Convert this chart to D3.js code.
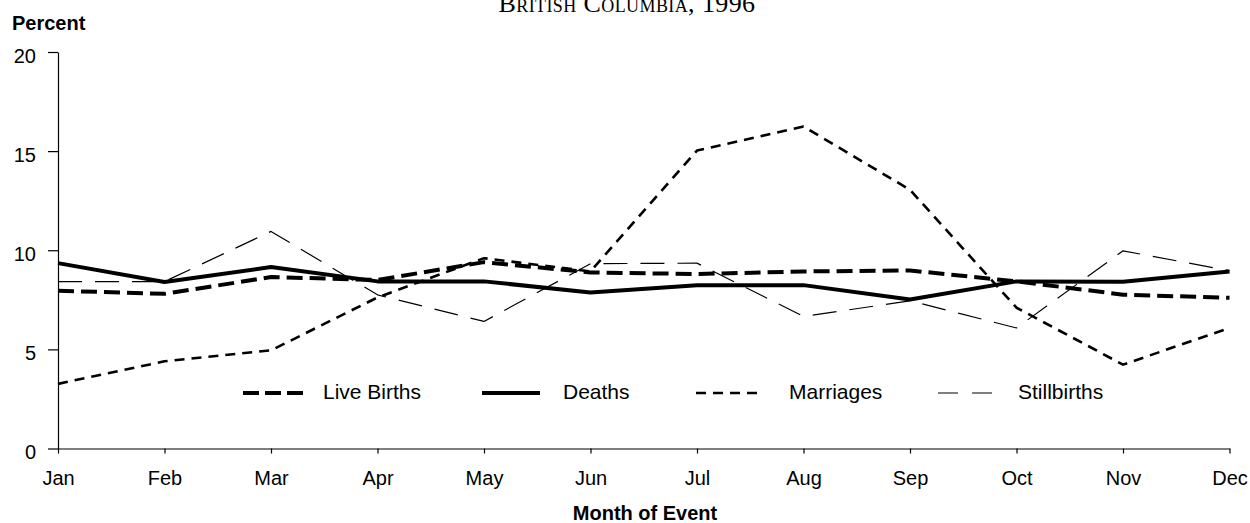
<!DOCTYPE html>
<html>
<head>
<meta charset="utf-8">
<script src="https://cdn.jsdelivr.net/npm/d3@7"></script>
<style>
  html, body { margin: 0; padding: 0; background: #fff; }
  svg { display: block; }
</style>
</head>
<body>
<svg id="chart" width="1250" height="523"></svg>
<script>
const months = ["Jan","Feb","Mar","Apr","May","Jun","Jul","Aug","Sep","Oct","Nov","Dec"];
const yTicks = [0, 5, 10, 15, 20];
const liveBirths  = [7.96, 7.8, 8.65, 8.5, 9.4, 8.88, 8.8, 8.93, 8.98, 8.43, 7.76, 7.6];
const deaths      = [9.35, 8.4, 9.15, 8.43, 8.43, 7.87, 8.24, 8.24, 7.52, 8.43, 8.41, 8.93];
const marriages   = [3.26, 4.4, 4.95, 7.62, 9.6, 8.93, 15.03, 16.24, 13.05, 7.1, 4.23, 6.08];
const stillbirths = [8.42, 8.42, 10.95, 7.75, 6.41, 9.32, 9.35, 6.66, 7.45, 6.08, 9.97, 8.97];
const seriesNames = ["Live Births", "Deaths", "Marriages", "Stillbirths"];
const titleText = "British Columbia, 1996";

const series = [
  {name: seriesNames[0], values: liveBirths,  width: 4,   dash: "16,7"},
  {name: seriesNames[1], values: deaths,      width: 4,   dash: null},
  {name: seriesNames[2], values: marriages,   width: 2.6, dash: "10,7"},
  {name: seriesNames[3], values: stillbirths, width: 1.2, dash: "24,13"}
];

const svg = d3.select("#chart");
const font = "'Liberation Sans', Arial, sans-serif";

const x = d3.scalePoint().domain(months).range([58, 1229.5]);
const y = d3.scaleLinear().domain([0, 20]).range([448.5, 52]);

// Title, partly cut by the top edge as in the reference
svg.append("text")
  .attr("x", 627).attr("y", 11.5)
  .attr("text-anchor", "middle")
  .style("font-family", "'Liberation Serif', 'Times New Roman', serif")
  .style("font-variant", "small-caps")
  .style("font-size", "26px")
  .style("letter-spacing", "0.4px")
  .text(titleText);

// Y axis
const yAxis = d3.axisLeft(y).tickValues(yTicks).tickSize(10).tickSizeOuter(0).tickPadding(12);
const gy = svg.append("g").attr("transform", "translate(58,0)").call(yAxis);
gy.selectAll("text").style("font-family", font).style("font-size", "20px").attr("fill", "#000").attr("dy", "0.5em");
gy.selectAll("line, path").attr("stroke", "#000").attr("stroke-width", 1.2);

// X axis
const xAxis = d3.axisBottom(x).tickSize(5).tickSizeOuter(0).tickPadding(17);
const gx = svg.append("g").attr("transform", "translate(0,448.5)").call(xAxis);
gx.selectAll("text").style("font-family", font).style("font-size", "20px").attr("fill", "#000");
gx.selectAll("line, path").attr("stroke", "#000").attr("stroke-width", 1.2);

// Axis titles
svg.append("text").attr("x", 12).attr("y", 30)
  .style("font-family", font).style("font-size", "20px").style("font-weight", "bold")
  .text("Percent");
svg.append("text").attr("x", 645).attr("y", 519.5).attr("text-anchor", "middle")
  .style("font-family", font).style("font-size", "20px").style("font-weight", "bold")
  .text("Month of Event");

// Lines
const line = d3.line().x((d, i) => x(months[i])).y(d => y(d));
series.forEach(s => {
  svg.append("path")
    .datum(s.values)
    .attr("d", line)
    .attr("fill", "none")
    .attr("stroke", "#000")
    .attr("stroke-width", s.width)
    .attr("stroke-dasharray", s.dash)
    .attr("stroke-linejoin", "round");
});

// Legend
const legendX = [243, 482, 696, 938];
const legendLen = [60, 58, 61, 54];
const legendDash = ["16,6", null, "10,7", "20,14"];
const legendTextX = [323, 563, 789, 1018];
const legendY = 393;
series.forEach((s, i) => {
  svg.append("line")
    .attr("x1", legendX[i]).attr("x2", legendX[i] + legendLen[i])
    .attr("y1", legendY).attr("y2", legendY)
    .attr("stroke", "#000").attr("stroke-width", s.width).attr("stroke-dasharray", legendDash[i]);
  svg.append("text").attr("x", legendTextX[i]).attr("y", legendY + 6)
    .style("font-family", font).style("font-size", "21px")
    .text(s.name);
});
</script>
</body>
</html>
